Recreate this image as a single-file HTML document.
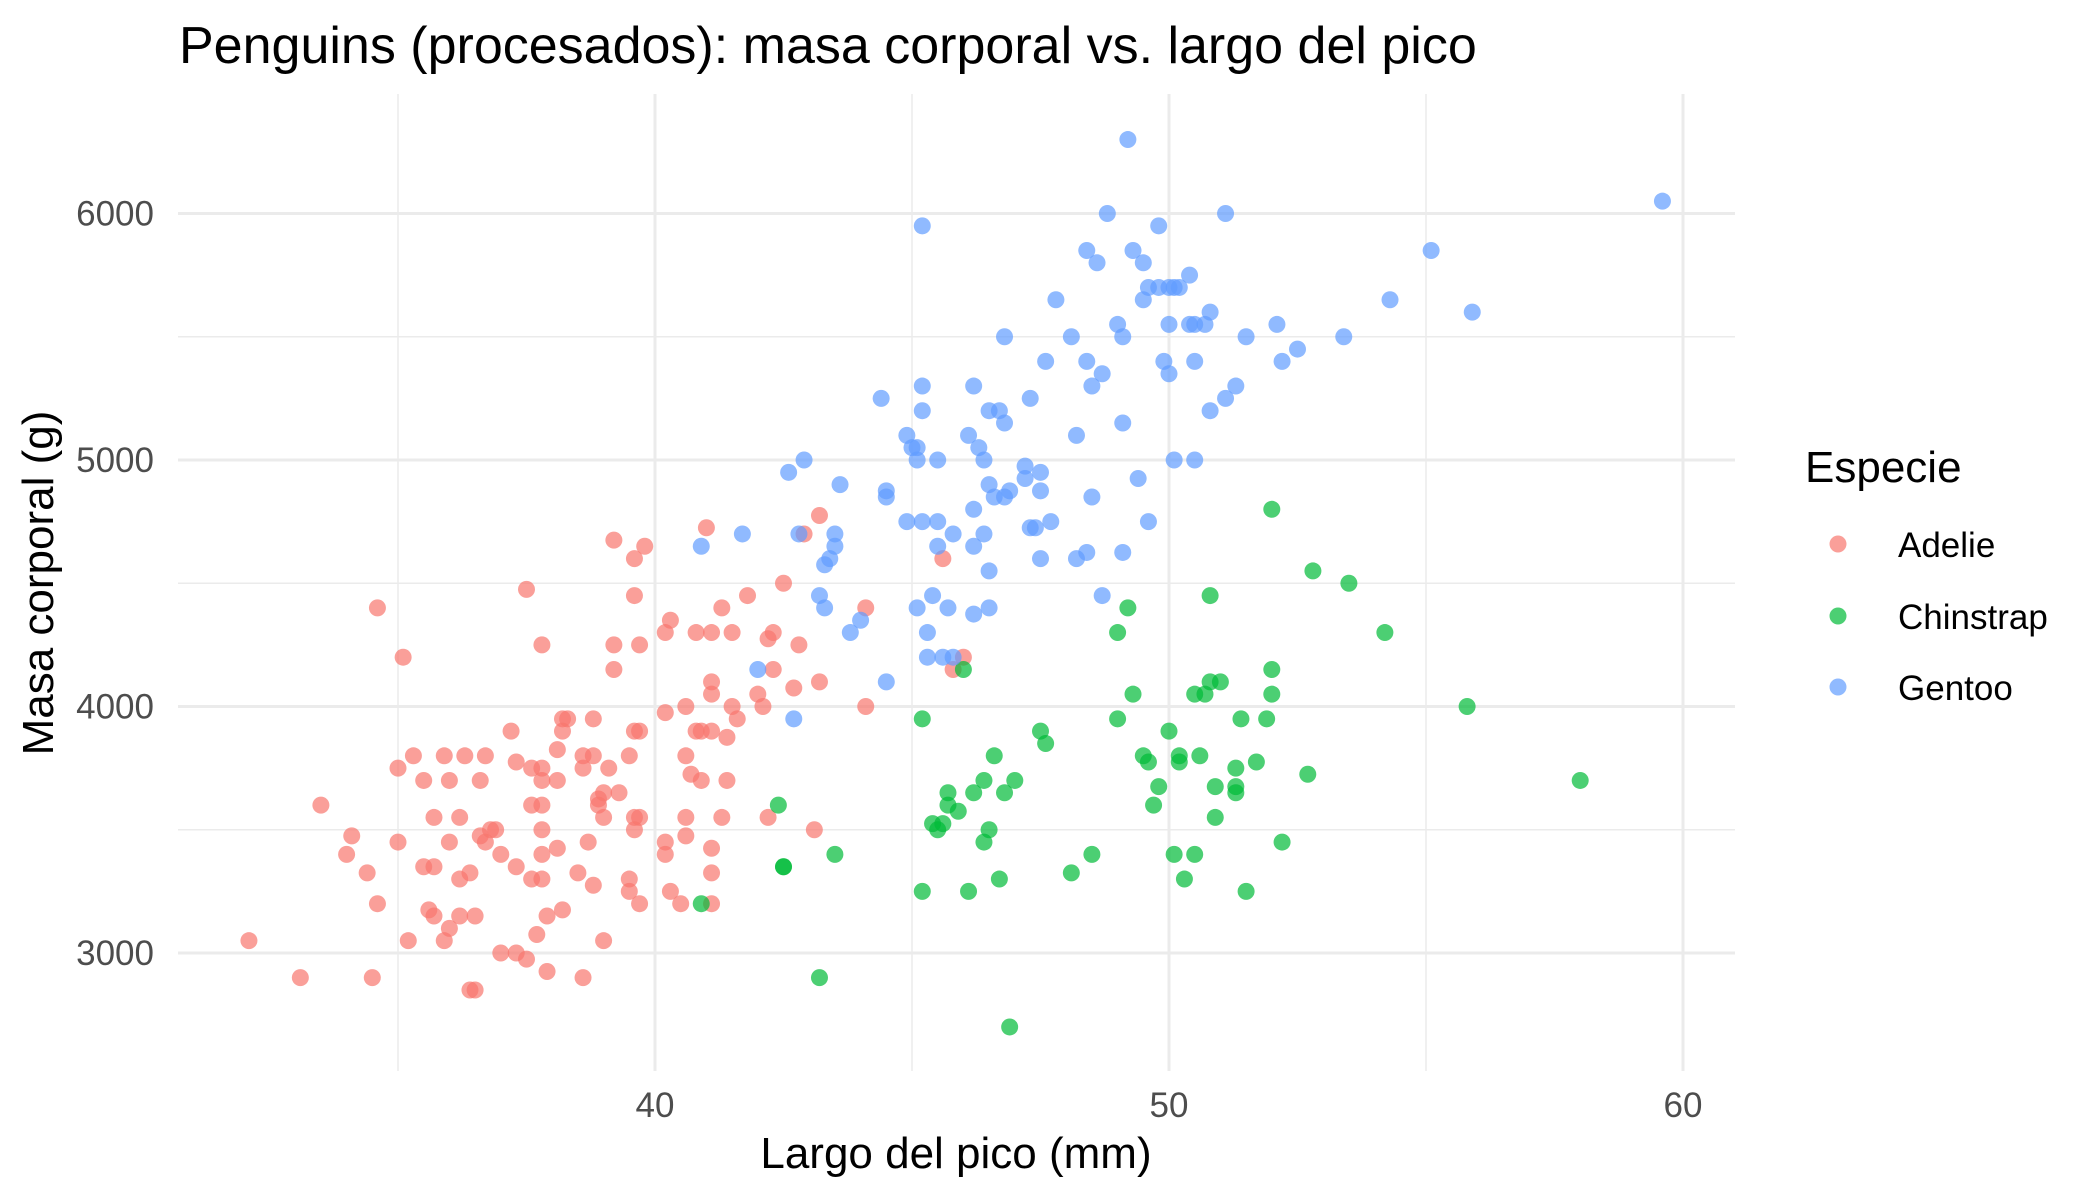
<!DOCTYPE html>
<html><head><meta charset="utf-8"><style>
html,body{margin:0;padding:0;background:#fff;}
svg{display:block;font-family:"Liberation Sans",Arial,sans-serif;}
</style></head><body>
<svg id="chart" width="2100" height="1200" viewBox="0 0 2100 1200">
<text x="179" y="63" font-size="52" fill="#000">Penguins (procesados): masa corporal vs. largo del pico</text>
<g id="grid"></g>
<g id="yticks"></g>
<g id="xticks"></g>
<g id="points"></g>
<text x="956" y="1168" font-size="44" text-anchor="middle" fill="#000">Largo del pico (mm)</text>
<text transform="translate(53,583) rotate(-90)" font-size="44" text-anchor="middle" fill="#000">Masa corporal (g)</text>
<g>
<text x="1805" y="482" font-size="44" fill="#000">Especie</text>
<g id="legend-items"></g>
</g>
</svg>
<script>
const species = ["Adelie","Chinstrap","Gentoo"];
const colors = ["#F8766D","#00BA38","#619CFF"];
const xTicks = [40,50,60];
const xMinor = [35,45,55];
const yTicks = [3000,4000,5000,6000];
const yMinor = [3500,4500,5500];
const adelieX = [32.1,33.1,33.5,34.1,34.0,34.4,34.5,34.6,34.6,35.1,35.0,35.0,35.2,35.3,35.5,35.5,35.6,35.7,35.7,35.7,35.9,35.9,36.0,36.0,36.0,36.2,36.2,36.2,36.3,36.4,36.4,36.5,36.5,36.6,36.6,36.7,36.7,36.8,36.9,37.0,37.0,37.2,37.3,37.3,37.3,37.5,37.5,37.6,37.6,37.6,37.7,37.8,37.8,37.8,37.8,37.8,37.8,37.8,37.9,37.9,38.1,38.1,38.1,38.2,38.2,38.2,38.3,38.5,38.6,38.6,38.6,38.7,38.8,38.8,38.8,38.9,38.9,39.0,39.0,39.0,39.1,39.2,39.2,39.2,39.3,39.5,39.5,39.5,39.6,39.6,39.6,39.6,39.6,39.7,39.7,39.7,39.7,39.8,40.2,40.2,40.2,40.2,40.3,40.3,40.5,40.6,40.6,40.6,40.6,40.7,40.8,40.8,40.9,40.9,41.0,41.1,41.1,41.1,41.1,41.1,41.1,41.1,41.3,41.3,41.4,41.4,41.5,41.5,41.6,41.8,42.0,42.1,42.2,42.2,42.3,42.3,42.5,42.7,42.8,42.9,43.1,43.2,43.2,44.1,44.1,45.6,45.8,46.0];
const adelieY = [3050,2900,3600,3475,3400,3325,2900,4400,3200,4200,3750,3450,3050,3800,3700,3350,3175,3550,3350,3150,3800,3050,3700,3450,3100,3550,3300,3150,3800,3325,2850,2850,3150,3700,3475,3450,3800,3500,3500,3400,3000,3900,3775,3350,3000,2975,4475,3750,3600,3300,3075,3600,3700,4250,3750,3500,3400,3300,3150,2925,3700,3825,3425,3175,3900,3950,3950,3325,3800,3750,2900,3450,3800,3950,3275,3600,3625,3650,3550,3050,3750,4675,4250,4150,3650,3800,3300,3250,3900,4600,4450,3500,3550,3900,4250,3550,3200,4650,3975,4300,3450,3400,3250,4350,3200,4000,3800,3550,3475,3725,4300,3900,3900,3700,4725,4300,4100,4050,3900,3425,3325,3200,3550,4400,3875,3700,4300,4000,3950,4450,4050,4000,3550,4275,4300,4150,4500,4075,4250,4700,3500,4100,4775,4000,4400,4600,4150,4200];
const chinstrapX = [42.4,42.5,42.5,40.9,43.2,43.5,45.2,45.2,45.4,45.5,45.6,45.7,45.7,45.9,46.0,46.1,46.2,46.4,46.4,46.5,46.6,46.7,46.8,46.9,47.0,47.5,47.6,48.1,48.5,49.0,49.0,49.2,49.3,49.5,49.6,49.7,49.8,50.0,50.1,50.2,50.2,50.3,50.5,50.5,50.6,50.7,50.8,50.8,50.9,50.9,51.0,51.3,51.3,51.3,51.4,51.5,51.7,51.9,52.0,52.0,52.0,52.2,52.7,52.8,53.5,54.2,55.8,58.0];
const chinstrapY = [3600,3350,3350,3200,2900,3400,3250,3950,3525,3500,3525,3650,3600,3575,4150,3250,3650,3700,3450,3500,3800,3300,3650,2700,3700,3900,3850,3325,3400,4300,3950,4400,4050,3800,3775,3600,3675,3900,3400,3775,3800,3300,4050,3400,3800,4050,4450,4100,3675,3550,4100,3675,3750,3650,3950,3250,3775,3950,4800,4150,4050,3450,3725,4550,4500,4300,4000,3700];
const gentooX = [40.9,41.7,42.0,42.6,42.7,42.8,42.9,43.2,43.3,43.3,43.4,43.5,43.5,43.6,43.8,44.0,44.4,44.5,44.5,44.5,44.9,44.9,45.0,45.1,45.1,45.1,45.2,45.2,45.2,45.2,45.3,45.3,45.4,45.5,45.5,45.5,45.6,45.7,45.8,45.8,46.1,46.2,46.2,46.2,46.2,46.3,46.4,46.4,46.5,46.5,46.5,46.5,46.6,46.7,46.8,46.8,46.8,46.9,47.3,47.2,47.2,47.3,47.4,47.5,47.5,47.5,47.6,47.7,47.8,48.1,48.2,48.2,48.4,48.4,48.4,48.5,48.5,48.6,48.7,48.7,48.8,49.0,49.1,49.1,49.1,49.2,49.3,49.4,49.5,49.5,49.6,49.6,49.8,49.8,49.9,50.0,50.0,50.0,50.1,50.1,50.2,50.4,50.4,50.5,50.5,50.5,50.7,50.8,50.8,51.1,51.1,51.3,51.5,52.1,52.2,52.5,53.4,54.3,55.1,55.9,59.6];
const gentooY = [4650,4700,4150,4950,3950,4700,5000,4450,4400,4575,4600,4650,4700,4900,4300,4350,5250,4875,4850,4100,5100,4750,5050,5050,5000,4400,5950,5300,5200,4750,4300,4200,4450,5000,4750,4650,4200,4400,4700,4200,5100,5300,4800,4650,4375,5050,4700,5000,5200,4900,4550,4400,4850,5200,5500,4850,5150,4875,5250,4975,4925,4725,4725,4950,4875,4600,5400,4750,5650,5500,5100,4600,5850,5400,4625,5300,4850,5800,5350,4450,6000,5550,5500,5150,4625,6300,5850,4925,5800,5650,5700,4750,5950,5700,5400,5700,5550,5350,5700,5000,5700,5750,5550,5550,5400,5000,5550,5600,5200,6000,5250,5300,5500,5550,5400,5450,5500,5650,5850,5600,6050];

const NS="http://www.w3.org/2000/svg";
const L=178,R=1735,T=94,B=1071;
function sx(v){return 655+(v-40)*51.4;}
function sy(v){return 953-(v-3000)*0.2465;}
function mk(tag,attrs,parent){const e=document.createElementNS(NS,tag);for(const k in attrs)e.setAttribute(k,attrs[k]);parent.appendChild(e);return e;}
const grid=document.getElementById('grid');
yMinor.forEach(v=>{const l=mk('line',{x1:L,x2:R,y1:sy(v),y2:sy(v),stroke:'#ebebeb','stroke-width':1.5},grid);

});
xMinor.forEach(v=>{const l=mk('line',{x1:sx(v),x2:sx(v),y1:T,y2:B,stroke:'#ebebeb','stroke-width':1.5},grid);

});
yTicks.forEach(v=>{const l=mk('line',{x1:L,x2:R,y1:sy(v),y2:sy(v),stroke:'#ebebeb','stroke-width':3},grid);


const t=mk('text',{x:154,y:sy(v)+12,'font-size':35,'text-anchor':'end',fill:'#4d4d4d'},document.getElementById('yticks'));t.textContent=v;

});
xTicks.forEach(v=>{const l=mk('line',{x1:sx(v),x2:sx(v),y1:T,y2:B,stroke:'#ebebeb','stroke-width':3},grid);


const t=mk('text',{x:sx(v),y:1117,'font-size':35,'text-anchor':'middle',fill:'#4d4d4d'},document.getElementById('xticks'));t.textContent=v;

});
const pts=document.getElementById('points');
const series=[[adelieX,adelieY],[chinstrapX,chinstrapY],[gentooX,gentooY]];
series.forEach((s,i)=>{s[0].forEach((x,j)=>{const c=mk('circle',{cx:sx(x),cy:sy(s[1][j]),r:8.5,fill:colors[i],'fill-opacity':0.7},pts);

});});
const li=document.getElementById('legend-items');
const ly=[544,616,687];
species.forEach((s,i)=>{const c=mk('circle',{cx:1838,cy:ly[i],r:8.5,fill:colors[i],'fill-opacity':0.7},li);


const t=mk('text',{x:1898,y:ly[i]+13,'font-size':35,fill:'#000'},li);t.textContent=s;

});
</script>
</body></html>
